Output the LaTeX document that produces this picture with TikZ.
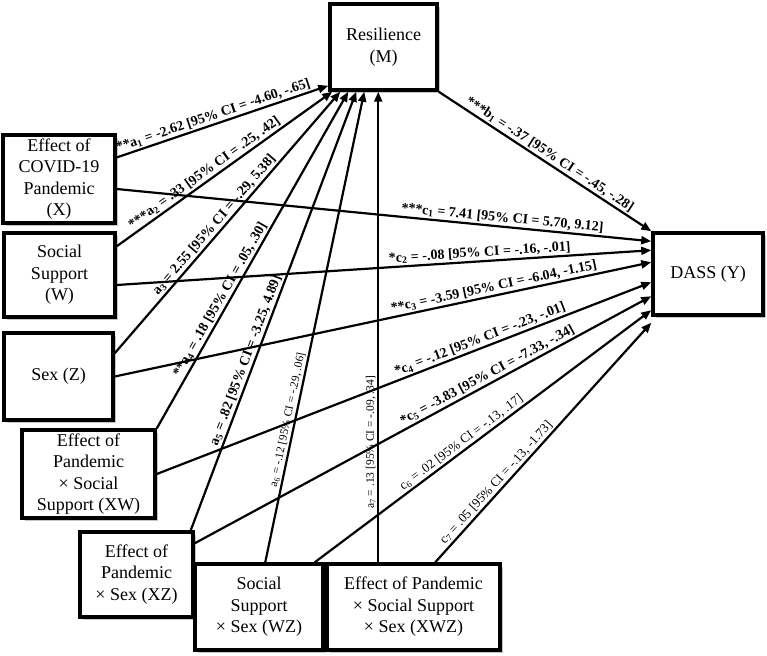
\documentclass[tikz,border=0pt]{standalone}
\usepackage{fontspec}
\setmainfont{Liberation Serif}
\usetikzlibrary{arrows.meta,shadows}

\begin{document}
\begin{tikzpicture}[x=1pt, y=-1pt,
  varbox/.style={draw, line width=3.5pt, fill=white, align=center,
    font=\fontsize{18}{21.5}\selectfont,
    drop shadow={shadow xshift=3pt, shadow yshift=-3pt, fill=black!45}},
  link/.style={line width=2.2pt, -{Triangle[length=10pt, width=8pt]}},
  coef/.style={sloped, above, inner sep=1.5pt, font=\fontsize{14}{16}\selectfont\bfseries},
  coefns/.style={coef, font=\fontsize{13}{15}\selectfont},
  coefsm/.style={coef, font=\fontsize{11.5}{13}\selectfont}]
  \useasboundingbox (0, 0) rectangle (767, 655);

  \node[varbox, minimum width=107pt, minimum height=86pt] (M) at (383.5, 47) {Resilience\\(M)};
  \node[varbox, minimum width=110pt, minimum height=82pt] (Y) at (708, 274) {DASS (Y)};

  \node[varbox, minimum width=112pt, minimum height=86pt] (X) at (59, 179) {Effect of\\COVID-19\\Pandemic\\(X)};
  \node[varbox, minimum width=111pt, minimum height=84pt] (W) at (59.5, 275) {Social\\Support\\(W)};
  \node[varbox, minimum width=109pt, minimum height=87pt] (Z) at (58.5, 376.5) {Sex (Z)};
  \node[varbox, minimum width=133pt, minimum height=86pt] (XW) at (88.5, 474) {Effect of\\Pandemic\\× Social\\Support (XW)};
  \node[varbox, minimum width=113pt, minimum height=85pt] (XZ) at (136.5, 574.5) {Effect of\\Pandemic\\× Sex (XZ)};
  \node[varbox, minimum width=128pt, minimum height=86pt] (WZ) at (259, 607) {Social\\Support\\× Sex (WZ)};
  \node[varbox, minimum width=173pt, minimum height=86pt] (XWZ) at (413.5, 607) {Effect of Pandemic\\× Social Support\\× Sex (XWZ)};

  % paths to the mediator
  \draw[link] ([yshift=-24pt]X.north east) -- ([yshift=6pt]M.south west)
    node[coef, pos=0.47] {**a\textsubscript{1} = -2.62 [95\% CI = -4.60, -.65]};
  \draw[link] ([yshift=-15pt]W.north east) -- ([xshift=4pt]M.south west)
    node[coef, pos=0.43] {***a\textsubscript{2} = .33 [95\% CI = .25, .42]};
  \draw[link] ([yshift=-22pt]Z.north east) -- ([xshift=12pt]M.south west)
    node[coef, pos=0.47] {a\textsubscript{3} = 2.55 [95\% CI = -.29, 5.38]};
  \draw[link] (XW.north east) -- ([xshift=20pt]M.south west)
    node[coef, pos=0.37] {**a\textsubscript{4} = .18 [95\% CI = .05, .30]};
  \draw[link] ([xshift=-4pt]XZ.north east) -- ([xshift=28pt]M.south west)
    node[coef, pos=0.38] {a\textsubscript{5} = .82 [95\% CI = -3.25, 4.89]};
  \draw[link] ([xshift=72pt]WZ.north west) -- ([xshift=36pt]M.south west)
    node[coefsm, pos=0.3] {a\textsubscript{6} = -.12 [95\% CI = -.29, .06]};
  \draw[link] ([xshift=53pt]XWZ.north west) -- ([xshift=50pt]M.south west)
    node[coefsm, pos=0.255] {a\textsubscript{7} = .13 [95\% CI = -.09, .34]};

  % paths to the outcome
  \draw[link] (M.south east) -- (Y.north west)
    node[coef, pos=0.5] {***b\textsubscript{1} = -.37 [95\% CI = -.45, -.28]};
  \draw[link] ([yshift=-10pt]X.east) -- ([yshift=-10pt]Y.north west)
    node[coef, pos=0.72] {***c\textsubscript{1} = 7.41 [95\% CI = 5.70, 9.12]};
  \draw[link] ([yshift=-10pt]W.east) -- ([yshift=-19pt]Y.north west)
    node[coef, pos=0.68] {*c\textsubscript{2} = -.08 [95\% CI = -.16, -.01]};
  \draw[link] (Z.east) -- ([yshift=-31pt]Y.north west)
    node[coef, pos=0.71] {**c\textsubscript{3} = -3.59 [95\% CI = -6.04, -1.15]};
  \draw[link] (XW.east) -- ([yshift=-51pt]Y.north west)
    node[coef, pos=0.66] {*c\textsubscript{4} = -.12 [95\% CI = -.23, -.01]};
  \draw[link] ([yshift=-13pt]XZ.north east) -- ([yshift=-65pt]Y.north west)
    node[coef, pos=0.65] {*c\textsubscript{5} = -3.83 [95\% CI = -7.33, -.34]};
  \draw[link] ([xshift=-10pt]WZ.north east) -- ([yshift=-79pt]Y.north west)
    node[coefns, pos=0.45] {c\textsubscript{6} = .02 [95\% CI = -.13, .17]};
  \draw[link] ([xshift=110pt]XWZ.north west) -- ([yshift=-6pt]Y.south west)
    node[coefns, pos=0.31] {c\textsubscript{7} = .05 [95\% CI = -.13, -1.73]};
\end{tikzpicture}
\end{document}
